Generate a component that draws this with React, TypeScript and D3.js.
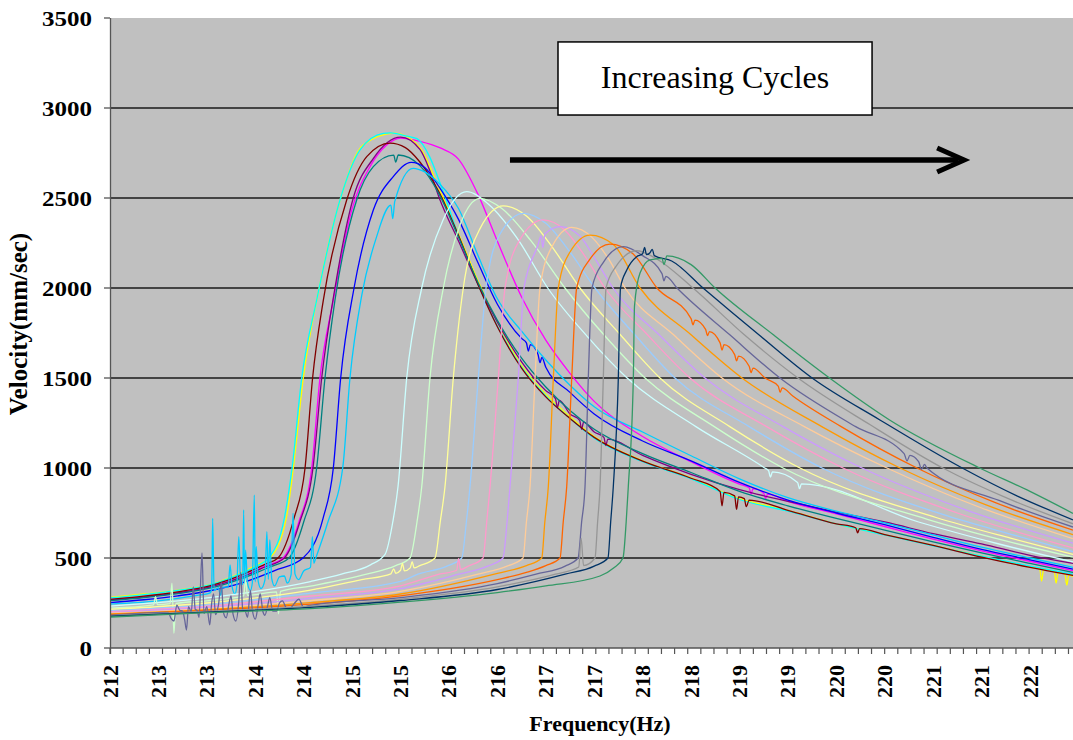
import * as d3 from "d3";
import { useMemo } from "react";

type Pt = [number, number];

// axis values
const X_TICK_VALUES = [212, 212.5, 213, 213.5, 214, 214.5, 215, 215.5, 216, 216.5, 217, 217.5, 218, 218.5, 219, 219.5, 220, 220.5, 221, 221.5];
const X_TICK_LABELS = ["212", "213", "213", "214", "214", "215", "215", "216", "216", "217", "217", "218", "218", "219", "219", "220", "220", "221", "221", "222"];
const Y_TICK_VALUES = [0, 500, 1000, 1500, 2000, 2500, 3000, 3500];

// one array per sweep: [frequency Hz, velocity mm/sec]
const MAGENTA_RUN: Pt[] = [
  [212, 268], [212.35, 285], [212.7, 308], [213.03, 340], [213.38, 400], [213.6, 455], [213.786, 500], [213.95, 700],
  [214.083, 1000], [214.168, 1500], [214.306, 1933], [214.496, 2433], [214.685, 2674], [214.857, 2794], [215.0, 2833],
  [215.2, 2815], [215.41, 2778], [215.6, 2715], [215.8, 2520], [216.0, 2260], [216.25, 1950], [216.5, 1710], [216.75, 1526],
  [217.0, 1370], [217.5, 1175], [218.0, 1035], [218.5, 910], [218.6, 890], [218.62, 855], [218.64, 885], [218.75, 860],
  [218.77, 830], [218.79, 855], [219.0, 815], [219.5, 745], [220.0, 675], [220.5, 605], [221.0, 540], [221.5, 482], [221.944, 430],
];
const YELLOW_RUN: Pt[] = [
  [212, 281], [212.35, 300], [212.7, 322], [213.03, 352], [213.38, 425], [213.55, 470], [213.652, 500], [213.82, 720],
  [213.893, 1000], [213.996, 1500], [214.16, 2000], [214.382, 2500], [214.613, 2794], [214.943, 2860], [215.2, 2780],
  [215.4, 2550], [215.6, 2300], [215.8, 2040], [216.0, 1810], [216.25, 1570], [216.5, 1410], [216.75, 1285], [217.0, 1175],
  [217.5, 1040], [218.0, 945], [218.5, 830], [219.0, 765], [219.5, 690], [220.0, 630], [220.5, 570], [221.0, 510], [221.5, 450],
  [221.6, 440], [221.62, 372], [221.64, 436], [221.75, 425], [221.77, 360], [221.79, 420], [221.86, 410], [221.88, 350],
  [221.9, 405], [221.944, 398],
];
const CYAN_RUN: Pt[] = [
  [212, 278], [212.35, 297], [212.7, 320], [213.03, 350], [213.38, 420], [213.55, 465], [213.64, 500], [213.8, 720],
  [213.88, 1000], [213.98, 1500], [214.134, 1933], [214.375, 2489], [214.582, 2767], [214.822, 2859], [214.9, 2862],
  [215.05, 2845], [215.17, 2830], [215.3, 2730], [215.41, 2580], [215.6, 2290], [215.8, 2020], [216.0, 1790], [216.25, 1560],
  [216.5, 1400], [216.75, 1275], [217.0, 1165], [217.5, 1035], [218.0, 940], [218.5, 825], [219.0, 760], [219.5, 690],
  [220.0, 628], [220.5, 568], [221.0, 510], [221.5, 455], [221.944, 410],
];
const PURPLE_RUN: Pt[] = [
  [212, 266], [212.35, 283], [212.7, 306], [213.03, 338], [213.38, 398], [213.6, 450], [213.8, 500], [213.96, 700],
  [214.096, 1000], [214.186, 1500], [214.323, 2000], [214.512, 2500], [214.72, 2720], [215.0, 2838], [215.2, 2770],
  [215.3, 2656], [215.4, 2500], [215.6, 2260], [215.8, 2020], [216.0, 1810], [216.25, 1590], [216.5, 1430], [216.6, 1385],
  [216.62, 1335], [216.64, 1375], [216.75, 1300], [216.85, 1265], [216.87, 1215], [216.89, 1255], [217.0, 1200],
  [217.1, 1170], [217.12, 1125], [217.14, 1160], [217.5, 1070], [218.0, 965], [218.5, 880], [219.0, 815], [219.5, 755],
  [220.0, 700], [220.5, 635], [221.0, 578], [221.5, 515], [221.944, 470],
];
const MAROON_RUN: Pt[] = [
  [212, 270], [212.35, 288], [212.7, 312], [213.03, 345], [213.38, 410], [213.6, 465], [213.735, 500], [213.9, 720],
  [214.014, 1000], [214.092, 1500], [214.203, 1933], [214.444, 2489], [214.651, 2730], [214.891, 2805], [215.05, 2780],
  [215.2, 2700], [215.4, 2530], [215.6, 2290], [215.8, 2020], [216.0, 1785], [216.25, 1555], [216.5, 1395], [216.75, 1275],
  [217.0, 1170], [217.5, 1038], [218.0, 943], [218.3, 870], [218.32, 790], [218.34, 865], [218.45, 845], [218.47, 770],
  [218.49, 840], [218.55, 830], [218.57, 785], [218.6, 822], [219.0, 765], [219.5, 690], [219.7, 668], [219.72, 640],
  [219.74, 663], [220.0, 630], [220.5, 570], [221.0, 505], [221.5, 448], [221.944, 403],
];
const TEAL_RUN: Pt[] = [
  [212, 263], [212.35, 280], [212.7, 302], [213.03, 332], [213.38, 390], [213.65, 450], [213.848, 500], [214.0, 700],
  [214.134, 1000], [214.22, 1500], [214.323, 1933], [214.547, 2489], [214.719, 2674], [214.93, 2738], [214.95, 2700],
  [214.977, 2739], [215.2, 2680], [215.4, 2520], [215.6, 2280], [215.8, 2030], [216.0, 1820], [216.25, 1610], [216.5, 1450],
  [216.75, 1320], [217.0, 1215], [217.5, 1080], [218.0, 975], [218.5, 870], [219.0, 790], [219.5, 720], [220.0, 655],
  [220.5, 590], [221.0, 528], [221.5, 470], [221.944, 420],
];
const BLUE_RUN: Pt[] = [
  [212, 252], [212.35, 268], [212.7, 290], [213.03, 318], [213.38, 365], [213.7, 430], [213.993, 500], [214.2, 720],
  [214.306, 1000], [214.382, 1500], [214.52, 2000], [214.719, 2433], [214.925, 2619], [215.11, 2698], [215.25, 2670],
  [215.4, 2560], [215.6, 2380], [215.8, 2140], [216.0, 1910], [216.25, 1720], [216.3, 1695], [216.32, 1650], [216.34, 1685],
  [216.42, 1630], [216.44, 1585], [216.46, 1615], [216.5, 1560], [216.75, 1420], [217.0, 1300], [217.5, 1150], [218.0, 1040],
  [218.5, 920], [219.0, 822], [219.5, 750], [220.0, 685], [220.5, 615], [221.0, 548], [221.5, 490], [221.944, 438],
];
const SKYBLUE_RUN: Pt[] = [
  [212, 244], [212.5, 262], [212.9, 292], [213.03, 305], [213.05, 325], [213.06, 720], [213.075, 320], [213.12, 335],
  [213.14, 290], [213.16, 338], [213.22, 338], [213.24, 461], [213.26, 342], [213.29, 300], [213.31, 348], [213.33, 618],
  [213.35, 352], [213.37, 355], [213.38, 767], [213.39, 356], [213.4, 544], [213.42, 360], [213.45, 320], [213.47, 364],
  [213.49, 850], [213.5, 368], [213.51, 563], [213.53, 372], [213.56, 330], [213.6, 378], [213.62, 646], [213.635, 382],
  [213.65, 600], [213.67, 386], [213.7, 345], [213.75, 395], [213.8, 400], [213.83, 360], [213.87, 408], [213.89, 748],
  [213.91, 412], [213.95, 380], [214.0, 428], [214.07, 448], [214.09, 618], [214.105, 470], [214.125, 500], [214.25, 700],
  [214.403, 1000], [214.478, 1500], [214.6, 1960], [214.75, 2280], [214.9, 2460], [214.92, 2385], [214.94, 2480],
  [215.13, 2665], [215.25, 2645], [215.4, 2580], [215.6, 2440], [215.8, 2180], [216.0, 1940], [216.25, 1760], [216.5, 1600],
  [216.75, 1460], [217.0, 1340], [217.5, 1200], [218.0, 1068], [218.5, 940], [219.0, 835], [219.5, 760], [220.0, 695],
  [220.5, 628], [221.0, 560], [221.5, 500], [221.944, 448],
];
const LIGHTCYAN_RUN: Pt[] = [
  [212, 233], [213, 278], [214.07, 369], [214.39, 410], [214.69, 462], [214.84, 520], [214.92, 700], [214.974, 896],
  [215.064, 1500], [215.219, 2000], [215.439, 2378], [215.683, 2535], [215.9, 2470], [216.2, 2280], [216.52, 2000],
  [216.93, 1730], [217.34, 1500], [218.05, 1230], [218.76, 1000], [218.8, 985], [218.82, 950], [218.84, 978], [219.1, 920],
  [219.12, 885], [219.14, 912], [220.35, 700], [221.2, 575], [221.944, 478],
];
const LIGHTGREEN_RUN: Pt[] = [
  [212, 222], [212.45, 240], [212.47, 285], [212.49, 241], [212.62, 246], [212.64, 360], [212.66, 82], [212.68, 248],
  [213, 262], [213.38, 290], [213.4, 378], [213.42, 292], [213.72, 312], [213.74, 190], [213.76, 314], [214.07, 344],
  [214.65, 410], [214.95, 458], [215.098, 500], [215.17, 700], [215.219, 896], [215.304, 1500], [215.442, 2000],
  [215.614, 2350], [215.821, 2498], [216.05, 2440], [216.35, 2260], [216.698, 2000], [217.1, 1740], [217.525, 1500],
  [218.24, 1230], [218.95, 1000], [220.44, 715], [221.25, 595], [221.944, 505],
];
const LIGHTYELLOW_RUN: Pt[] = [
  [212, 215], [213, 250], [214.07, 322], [214.6, 380], [214.9, 412], [214.93, 440], [214.95, 415], [215.0, 432],
  [215.02, 470], [215.04, 428], [215.1, 445], [215.12, 480], [215.14, 445], [215.2, 458], [215.356, 500], [215.41, 700],
  [215.459, 896], [215.545, 1500], [215.648, 2000], [215.821, 2330], [216.061, 2456], [216.3, 2400], [216.55, 2240],
  [216.853, 2000], [217.27, 1740], [217.679, 1500], [218.4, 1230], [219.125, 1000], [220.53, 725], [221.3, 610], [221.944, 520],
];
const PALEBLUE_RUN: Pt[] = [
  [212, 207], [213, 240], [214.07, 305], [215.0, 370], [215.18, 410], [215.48, 455], [215.632, 500], [215.68, 700],
  [215.717, 896], [215.803, 1500], [215.883, 2000], [216.027, 2300], [216.268, 2415], [216.5, 2360], [216.75, 2200],
  [217.008, 2000], [217.42, 1740], [217.834, 1500], [218.6, 1230], [219.352, 1000], [220.64, 735], [221.35, 625], [221.944, 536],
];
const ROSE_RUN: Pt[] = [
  [212, 202], [213, 232], [214.07, 289], [215.0, 345], [215.4, 410], [215.58, 432], [215.6, 498], [215.62, 436],
  [215.7, 455], [215.852, 500], [215.89, 700], [215.924, 896], [216.01, 1500], [216.079, 2000], [216.234, 2270],
  [216.471, 2378], [216.7, 2320], [216.9, 2180], [217.111, 2000], [217.55, 1740], [217.989, 1500], [218.78, 1230],
  [219.569, 1000], [220.75, 750], [221.944, 556],
];
const LAVENDER_RUN: Pt[] = [
  [212, 196], [213, 225], [214.07, 276], [215.0, 330], [215.6, 410], [215.9, 455], [216.058, 500], [216.1, 700],
  [216.13, 896], [216.216, 1500], [216.275, 2000], [216.42, 2240], [216.45, 2290], [216.47, 2225], [216.49, 2300],
  [216.647, 2341], [216.85, 2290], [217.0, 2170], [217.194, 2000], [217.67, 1740], [218.144, 1500], [218.95, 1230],
  [219.765, 1000], [220.85, 765], [221.944, 582],
];
const TAN_RUN: Pt[] = [
  [212, 193], [213, 219], [214.07, 263], [215.0, 315], [215.8, 410], [216.1, 455], [216.265, 500], [216.3, 700],
  [216.337, 896], [216.389, 1500], [216.44, 2000], [216.564, 2230], [216.768, 2337], [216.98, 2280], [217.15, 2160],
  [217.318, 2000], [217.82, 1740], [218.32, 1500], [219.17, 1230], [220.023, 1000], [220.98, 782], [221.944, 608],
];
const ORANGE_RUN: Pt[] = [
  [212, 189], [213, 213], [214.07, 252], [215.0, 300], [216.0, 415], [216.3, 458], [216.458, 500], [216.49, 700],
  [216.526, 896], [216.578, 1500], [216.629, 2000], [216.75, 2200], [216.956, 2294], [217.2, 2240], [217.473, 2000],
  [218.0, 1740], [218.526, 1500], [219.35, 1230], [220.158, 1000], [221.04, 796], [221.944, 630],
];
const ORANGERED_RUN: Pt[] = [
  [212, 185], [213, 209], [214.07, 244], [215.0, 290], [216.0, 380], [216.3, 420], [216.5, 458], [216.647, 500],
  [216.68, 700], [216.716, 896], [216.768, 1500], [216.819, 2000], [216.956, 2160], [217.163, 2244], [217.4, 2190],
  [217.648, 2000], [218.0, 1830], [218.02, 1795], [218.04, 1822], [218.15, 1770], [218.17, 1735], [218.19, 1758],
  [218.3, 1695], [218.32, 1655], [218.34, 1685], [218.45, 1630], [218.47, 1595], [218.49, 1622], [218.6, 1565],
  [218.62, 1530], [218.64, 1555], [218.764, 1500], [218.9, 1455], [218.92, 1420], [218.94, 1445], [219.05, 1400],
  [219.55, 1230], [220.333, 1000], [221.13, 810], [221.944, 655],
];
const SLATE_RUN: Pt[] = [
  [212, 181], [212.6, 198], [212.63, 165], [212.66, 150], [212.69, 238], [212.72, 210], [212.75, 204], [212.77, 160],
  [212.79, 100], [212.81, 230], [212.84, 200], [212.86, 340], [212.88, 215], [212.9, 208], [212.92, 170], [212.95, 528],
  [212.97, 192], [213.0, 230], [213.03, 128], [213.05, 250], [213.07, 300], [213.09, 185], [213.12, 240], [213.15, 365],
  [213.17, 200], [213.2, 168], [213.23, 250], [213.25, 290], [213.27, 190], [213.3, 150], [213.33, 260], [213.35, 420],
  [213.37, 215], [213.4, 200], [213.42, 170], [213.45, 320], [213.47, 210], [213.5, 160], [213.53, 240], [213.55, 300],
  [213.58, 200], [213.6, 182], [213.63, 240], [213.65, 280], [213.68, 205], [213.72, 205], [213.75, 250], [213.78, 262],
  [213.82, 222], [213.85, 215], [213.9, 245], [213.95, 272], [214.0, 225], [214.02, 230], [214.07, 237], [215.0, 280],
  [216.0, 358], [216.4, 410], [216.7, 455], [216.833, 500], [216.87, 700], [216.905, 896], [216.939, 1500], [216.977, 2000],
  [217.091, 2140], [217.3, 2230], [217.5, 2180], [217.7, 2080], [217.72, 2040], [217.74, 2065], [217.855, 2000],
  [218.4, 1740], [218.918, 1500], [219.7, 1230], [220.2, 1080], [220.23, 1040], [220.26, 1070], [220.35, 1035],
  [220.38, 992], [220.41, 1020], [220.436, 1000], [221.18, 820], [221.944, 672],
];
const GRAY_RUN: Pt[] = [
  [212, 180], [213, 203], [214.07, 233], [215.0, 272], [216.0, 340], [216.6, 410], [216.84, 450], [216.865, 610],
  [216.89, 458], [217.008, 500], [217.035, 700], [217.06, 896], [217.094, 1500], [217.122, 2000], [217.225, 2120],
  [217.439, 2207], [217.65, 2160], [218.02, 2000], [218.55, 1740], [219.104, 1500], [219.85, 1240], [220.6, 1000],
  [221.27, 831], [221.944, 690],
];
const NAVY_RUN: Pt[] = [
  [212, 176], [213, 199], [214.07, 226], [215.0, 264], [216.0, 325], [216.7, 410], [217.0, 455], [217.142, 500],
  [217.17, 700], [217.197, 896], [217.249, 1500], [217.271, 2000], [217.336, 2100], [217.438, 2174], [217.5, 2190],
  [217.52, 2225], [217.54, 2185], [217.576, 2196], [217.6, 2215], [217.62, 2180], [217.8, 2150], [218.124, 2000],
  [218.7, 1740], [219.25, 1500], [219.95, 1267], [220.8, 1000], [221.37, 844], [221.944, 712],
];
const SEAGREEN_RUN: Pt[] = [
  [212, 172], [213, 196], [214.07, 219], [215.0, 255], [216.0, 308], [216.5, 345], [217.06, 400], [217.2, 444],
  [217.297, 500], [217.33, 700], [217.352, 896], [217.404, 1500], [217.416, 1900], [217.473, 2083], [217.576, 2156],
  [217.7, 2165], [217.72, 2130], [217.75, 2178], [218.0, 2130], [218.248, 2000], [218.85, 1740], [219.43, 1500],
  [220.05, 1267], [220.98, 1000], [221.5, 870], [221.944, 748],
];

const SERIES: { color: string; points: Pt[] }[] = [
  { color: "#FF00FF", points: MAGENTA_RUN },
  { color: "#FFFF00", points: YELLOW_RUN },
  { color: "#00FFFF", points: CYAN_RUN },
  { color: "#800080", points: PURPLE_RUN },
  { color: "#800000", points: MAROON_RUN },
  { color: "#008080", points: TEAL_RUN },
  { color: "#0000FF", points: BLUE_RUN },
  { color: "#00CCFF", points: SKYBLUE_RUN },
  { color: "#CCFFFF", points: LIGHTCYAN_RUN },
  { color: "#CCFFCC", points: LIGHTGREEN_RUN },
  { color: "#FFFF99", points: LIGHTYELLOW_RUN },
  { color: "#99CCFF", points: PALEBLUE_RUN },
  { color: "#FF99CC", points: ROSE_RUN },
  { color: "#CC99FF", points: LAVENDER_RUN },
  { color: "#FFCC99", points: TAN_RUN },
  { color: "#FF9900", points: ORANGE_RUN },
  { color: "#FF6600", points: ORANGERED_RUN },
  { color: "#666699", points: SLATE_RUN },
  { color: "#969696", points: GRAY_RUN },
  { color: "#003366", points: NAVY_RUN },
  { color: "#339966", points: SEAGREEN_RUN },
];

const WIDTH = 1073;
const HEIGHT = 740;
const MARGIN = { top: 18, right: 0, bottom: 92, left: 110 };
const X_MIN = 212;
const X_MAX = 221.944;
const Y_MAX = 3500;
const MINOR_TICK_STEP = 0.13558;
const SERIF = "'Liberation Serif', 'Times New Roman', serif";

// annotation box + arrow, in data units
const NOTE_BOX = { f0: 216.626, f1: 219.869, v0: 2961, v1: 3367 };
const ARROW = { f0: 216.13, f1: 220.82, v: 2711 };

export default function App() {
  const x = useMemo(
    () => d3.scaleLinear().domain([X_MIN, X_MAX]).range([MARGIN.left, WIDTH - MARGIN.right]),
    [],
  );
  const y = useMemo(
    () => d3.scaleLinear().domain([0, Y_MAX]).range([HEIGHT - MARGIN.bottom, MARGIN.top]),
    [],
  );

  const line = useMemo(
    () =>
      d3
        .line<Pt>()
        .x((d) => x(d[0]))
        .y((d) => y(d[1]))
        .curve(d3.curveMonotoneX),
    [x, y],
  );

  const minorTicks = useMemo(() => d3.range(X_MIN, X_MAX + 1e-6, MINOR_TICK_STEP), []);

  const plotLeft = MARGIN.left;
  const plotRight = WIDTH - MARGIN.right;
  const plotTop = MARGIN.top;
  const plotBottom = HEIGHT - MARGIN.bottom;
  const axisX = plotLeft + 0.5;

  const boxX0 = x(NOTE_BOX.f0);
  const boxX1 = x(NOTE_BOX.f1);
  const boxY0 = y(NOTE_BOX.v1);
  const boxY1 = y(NOTE_BOX.v0);
  const arrowY = y(ARROW.v);
  const arrowX0 = x(ARROW.f0);
  const arrowTip = x(ARROW.f1);

  return (
    <svg
      width={WIDTH}
      height={HEIGHT}
      style={{ position: "absolute", left: 0, top: 0, display: "block", background: "#fff" }}
    >
      <defs>
        <clipPath id="plot-clip">
          <rect x={plotLeft} y={plotTop} width={plotRight - plotLeft} height={plotBottom - plotTop} />
        </clipPath>
      </defs>

      <rect x={plotLeft} y={plotTop} width={plotRight - plotLeft} height={plotBottom - plotTop} fill="#C0C0C0" />

      {Y_TICK_VALUES.filter((v) => v > 0 && v < Y_MAX).map((v) => (
        <line key={v} x1={plotLeft} x2={plotRight} y1={y(v)} y2={y(v)} stroke="#1a1a1a" strokeWidth={1.4} />
      ))}

      <g clipPath="url(#plot-clip)" fill="none" strokeLinejoin="round">
        {SERIES.map((s) => (
          <path key={s.color} d={line(s.points) ?? ""} stroke={s.color} strokeWidth={1.3} />
        ))}
      </g>

      {/* axes */}
      <line x1={axisX} x2={axisX} y1={plotTop} y2={plotBottom + 6} stroke="#555" strokeWidth={1.3} />
      <line x1={plotLeft} x2={plotRight} y1={plotBottom} y2={plotBottom} stroke="#555" strokeWidth={1.3} />
      {Y_TICK_VALUES.map((v) => (
        <g key={v}>
          <line x1={plotLeft - 6} x2={plotLeft} y1={y(v)} y2={y(v)} stroke="#555" strokeWidth={1.3} />
          <text
            x={92}
            y={y(v) + 8}
            textAnchor="end"
            fontFamily={SERIF}
            fontWeight="bold"
            fontSize={20}
            textLength={String(v).length * 12.5}
            lengthAdjust="spacingAndGlyphs"
          >
            {v}
          </text>
        </g>
      ))}
      {minorTicks.map((t, i) => (
        <line key={i} x1={x(t)} x2={x(t)} y1={plotBottom} y2={plotBottom + 6} stroke="#555" strokeWidth={1.2} />
      ))}
      {X_TICK_VALUES.map((t, i) => (
        <text
          key={i}
          transform={`translate(${x(t) + 7.5}, 665) rotate(-90)`}
          textAnchor="end"
          fontFamily={SERIF}
          fontWeight="bold"
          fontSize={22}
        >
          {X_TICK_LABELS[i]}
        </text>
      ))}

      <text x={600} y={731} textAnchor="middle" fontFamily={SERIF} fontWeight="bold" fontSize={22}>
        Frequency(Hz)
      </text>
      <text
        transform="translate(27, 324) rotate(-90)"
        textAnchor="middle"
        fontFamily={SERIF}
        fontWeight="bold"
        fontSize={25}
      >
        Velocity(mm/sec)
      </text>

      {/* annotation */}
      <rect x={boxX0} y={boxY0} width={boxX1 - boxX0} height={boxY1 - boxY0} fill="#fff" stroke="#000" strokeWidth={1.5} />
      <text
        x={(boxX0 + boxX1) / 2}
        y={(boxY0 + boxY1) / 2 + 10}
        textAnchor="middle"
        fontFamily={SERIF}
        fontSize={32}
      >
        Increasing Cycles
      </text>
      <line x1={arrowX0} x2={arrowTip - 6} y1={arrowY} y2={arrowY} stroke="#000" strokeWidth={5.5} />
      <polyline
        points={`${arrowTip - 27},${arrowY - 12} ${arrowTip},${arrowY} ${arrowTip - 27},${arrowY + 12}`}
        fill="none"
        stroke="#000"
        strokeWidth={5}
        strokeLinejoin="miter"
      />
    </svg>
  );
}
